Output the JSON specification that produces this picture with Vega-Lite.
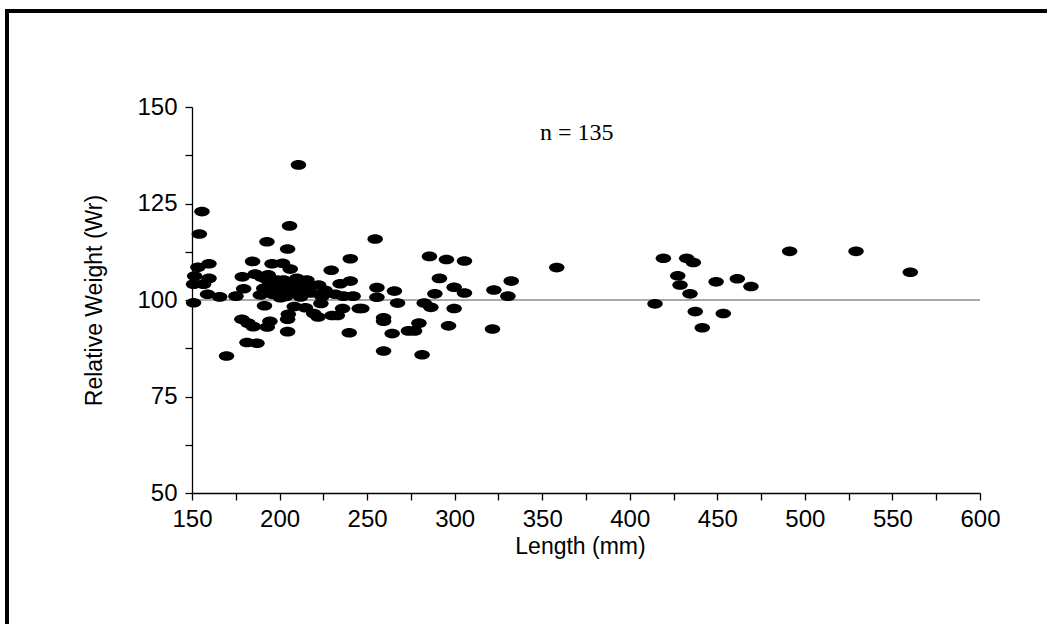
{
  "$schema": "https://vega.github.io/schema/vega-lite/v6.json",
  "width": 1100,
  "height": 700,
  "autosize": "none",
  "padding": {"left": 7, "top": 11, "right": 0, "bottom": 0},
  "background": "white",
  "layer": [
    {
      "data": {"values": [{"ref": 100}]},
      "mark": {"type": "rule", "color": "#555555", "strokeWidth": 1.2},
      "encoding": {
        "x": {"datum": 150, "type": "quantitative"},
        "x2": {"datum": 600},
        "y": {"field": "ref", "type": "quantitative"}
      }
    },
    {
      "data": {
        "values": [
          {"len": 210.8, "wr": 135.0}, {"len": 155.7, "wr": 122.9}, {"len": 154.2, "wr": 117.1},
          {"len": 205.7, "wr": 119.2}, {"len": 192.8, "wr": 115.1}, {"len": 204.6, "wr": 113.2},
          {"len": 240.4, "wr": 110.7}, {"len": 153.4, "wr": 108.5}, {"len": 159.7, "wr": 109.4},
          {"len": 184.6, "wr": 110.0}, {"len": 195.7, "wr": 109.4}, {"len": 201.7, "wr": 109.5},
          {"len": 206.1, "wr": 108.0}, {"len": 229.5, "wr": 107.7}, {"len": 151.5, "wr": 106.2},
          {"len": 159.7, "wr": 105.6}, {"len": 178.7, "wr": 106.0}, {"len": 186.1, "wr": 106.7},
          {"len": 189.5, "wr": 106.0}, {"len": 192.0, "wr": 105.5}, {"len": 194.5, "wr": 104.3},
          {"len": 196.5, "wr": 103.3}, {"len": 198.5, "wr": 105.2}, {"len": 191.0, "wr": 103.0},
          {"len": 193.5, "wr": 106.5}, {"len": 197.0, "wr": 104.0}, {"len": 199.0, "wr": 102.8},
          {"len": 202.3, "wr": 105.2}, {"len": 209.9, "wr": 105.6}, {"len": 215.6, "wr": 105.2},
          {"len": 150.9, "wr": 104.1}, {"len": 156.6, "wr": 104.1}, {"len": 179.5, "wr": 102.9},
          {"len": 209.5, "wr": 103.0}, {"len": 213.5, "wr": 102.2}, {"len": 218.0, "wr": 101.8},
          {"len": 211.5, "wr": 104.5}, {"len": 207.0, "wr": 103.6}, {"len": 204.0, "wr": 102.5},
          {"len": 222.3, "wr": 103.9}, {"len": 234.6, "wr": 104.2}, {"len": 240.4, "wr": 104.9},
          {"len": 158.9, "wr": 101.5}, {"len": 165.8, "wr": 100.8}, {"len": 175.1, "wr": 101.0},
          {"len": 189.0, "wr": 101.3}, {"len": 200.5, "wr": 100.6}, {"len": 203.5, "wr": 100.9},
          {"len": 205.5, "wr": 101.6}, {"len": 224.2, "wr": 100.9}, {"len": 231.8, "wr": 101.5},
          {"len": 236.5, "wr": 101.0}, {"len": 242.0, "wr": 101.0}, {"len": 150.9, "wr": 99.3},
          {"len": 191.4, "wr": 98.5}, {"len": 208.4, "wr": 98.3}, {"len": 214.8, "wr": 98.0},
          {"len": 223.6, "wr": 99.1}, {"len": 219.5, "wr": 96.5}, {"len": 222.0, "wr": 95.6},
          {"len": 230.0, "wr": 96.0}, {"len": 233.0, "wr": 96.0}, {"len": 236.0, "wr": 97.8},
          {"len": 245.5, "wr": 97.8}, {"len": 178.5, "wr": 95.0}, {"len": 182.0, "wr": 94.0},
          {"len": 205.0, "wr": 96.3}, {"len": 204.6, "wr": 95.0}, {"len": 194.5, "wr": 94.5},
          {"len": 193.0, "wr": 93.0}, {"len": 185.0, "wr": 93.1}, {"len": 204.6, "wr": 91.8},
          {"len": 239.8, "wr": 91.5}, {"len": 181.4, "wr": 89.0}, {"len": 187.1, "wr": 88.8},
          {"len": 169.7, "wr": 85.5}, {"len": 217.0, "wr": 103.5}, {"len": 212.0, "wr": 100.8},
          {"len": 226.0, "wr": 102.5}, {"len": 196.0, "wr": 101.5}, {"len": 201.0, "wr": 104.5},
          {"len": 254.6, "wr": 115.8}, {"len": 285.6, "wr": 111.3}, {"len": 295.3, "wr": 110.5},
          {"len": 305.6, "wr": 110.1}, {"len": 358.3, "wr": 108.4}, {"len": 291.3, "wr": 105.6},
          {"len": 332.3, "wr": 104.9}, {"len": 255.6, "wr": 103.2}, {"len": 265.6, "wr": 102.3},
          {"len": 288.7, "wr": 101.6}, {"len": 299.7, "wr": 103.3}, {"len": 305.6, "wr": 101.8},
          {"len": 322.4, "wr": 102.6}, {"len": 330.4, "wr": 101.0}, {"len": 255.6, "wr": 100.7},
          {"len": 247.0, "wr": 97.8}, {"len": 267.4, "wr": 99.2}, {"len": 282.6, "wr": 99.2},
          {"len": 286.4, "wr": 98.1}, {"len": 299.7, "wr": 97.8}, {"len": 259.4, "wr": 95.4},
          {"len": 259.4, "wr": 94.5}, {"len": 279.6, "wr": 94.0}, {"len": 273.6, "wr": 92.0},
          {"len": 277.1, "wr": 92.0}, {"len": 264.3, "wr": 91.3}, {"len": 296.5, "wr": 93.3},
          {"len": 321.6, "wr": 92.5}, {"len": 259.4, "wr": 86.8}, {"len": 281.4, "wr": 85.8},
          {"len": 419.2, "wr": 110.8}, {"len": 432.5, "wr": 110.8}, {"len": 436.3, "wr": 109.7},
          {"len": 427.4, "wr": 106.3}, {"len": 428.7, "wr": 103.9}, {"len": 434.4, "wr": 101.6},
          {"len": 414.4, "wr": 99.0}, {"len": 449.3, "wr": 104.7}, {"len": 461.4, "wr": 105.5},
          {"len": 469.2, "wr": 103.5}, {"len": 437.4, "wr": 97.0}, {"len": 453.4, "wr": 96.5},
          {"len": 441.4, "wr": 92.8}, {"len": 491.3, "wr": 112.6}, {"len": 529.2, "wr": 112.6},
          {"len": 560.2, "wr": 107.2}
        ]
      },
      "mark": {
        "type": "point",
        "filled": true,
        "color": "black",
        "opacity": 1,
        "shape": "M-1,0 A1,0.62 0 1,1 1,0 A1,0.62 0 1,1 -1,0 Z",
        "size": 240
      },
      "encoding": {
        "x": {
          "field": "len",
          "type": "quantitative",
          "title": "Length (mm)",
          "scale": {"domain": [150, 600], "range": [185, 973], "nice": false, "zero": false},
          "axis": {
            "offset": -218,
            "values": [150, 175, 200, 225, 250, 275, 300, 325, 350, 375, 400, 425, 450, 475, 500, 525, 550, 575, 600],
            "labelExpr": "datum.value % 50 == 0 ? datum.label : ''",
            "labelFlush": false,
            "labelOverlap": false,
            "grid": false,
            "tickSize": 7,
            "labelPadding": 7,
            "titlePadding": 4,
            "titleX": 573
          }
        },
        "y": {
          "field": "wr",
          "type": "quantitative",
          "title": "Relative Weight (Wr)",
          "scale": {"domain": [50, 150], "range": [482, 96], "nice": false, "zero": false},
          "axis": {
            "offset": -185,
            "values": [50, 62.5, 75, 87.5, 100, 112.5, 125, 137.5, 150],
            "labelExpr": "datum.value % 25 == 0 ? datum.label : ''",
            "labelFlush": false,
            "labelOverlap": false,
            "grid": false,
            "tickSize": 7,
            "labelPadding": 8,
            "titlePadding": 30,
            "titleY": 289
          }
        }
      }
    },
    {
      "data": {"values": [{"label": "n = 135", "lx": 369.7, "ly": 143.3}]},
      "mark": {"type": "text", "font": "Liberation Serif", "fontSize": 24, "color": "black"},
      "encoding": {
        "text": {"field": "label"},
        "x": {"field": "lx", "type": "quantitative"},
        "y": {"field": "ly", "type": "quantitative"}
      }
    }
  ],
  "config": {
    "view": {"stroke": "black", "strokeWidth": 4},
    "axis": {
      "labelFont": "Liberation Sans",
      "titleFont": "Liberation Sans",
      "labelFontSize": 24,
      "titleFontSize": 23,
      "titleFontWeight": "normal",
      "labelColor": "black",
      "titleColor": "black",
      "domainColor": "black",
      "tickColor": "black",
      "domainWidth": 1.3,
      "tickWidth": 1.3
    }
  }
}
